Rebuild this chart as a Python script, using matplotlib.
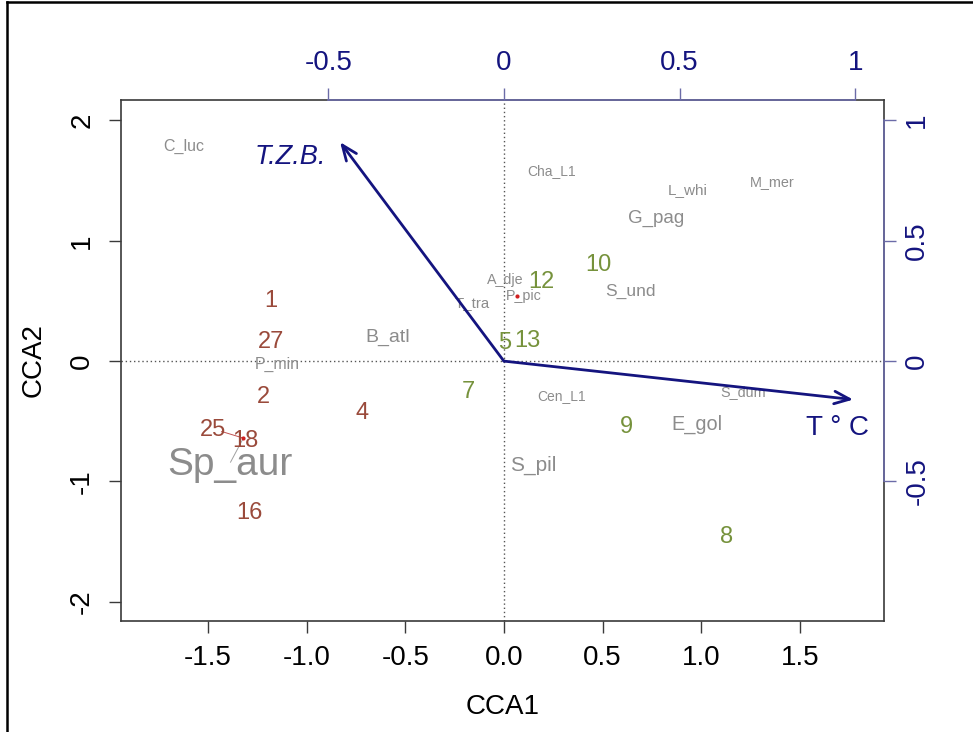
import numpy as np
import matplotlib.pyplot as plt
from matplotlib.lines import Line2D

plt.rcParams['font.family'] = ['Liberation Sans', 'DejaVu Sans']

# species scores (label centres, CCA1 / CCA2)
species = ['C_luc', 'Cha_L1', 'L_whi', 'M_mer', 'G_pag', 'A_dje', 'P_pic', 'S_und',
           'T_tra', 'B_atl', 'P_min', 'Cen_L1', 'S_dum', 'E_gol', 'S_pil', 'Sp_aur']
sp_x = [-1.62, 0.24, 0.93, 1.36, 0.77, 0.005, 0.10, 0.64,
        -0.16, -0.59, -1.15, 0.29, 1.21, 0.98, 0.15, -1.39]
sp_y = [1.78, 1.58, 1.42, 1.49, 1.19, 0.67, 0.54, 0.58,
        0.48, 0.20, -0.025, -0.29, -0.26, -0.53, -0.87, -0.865]
sp_size = [11.5, 10, 11, 10.4, 13.5, 10.3, 10.3, 12.5,
           10.8, 14, 11.4, 10, 10.4, 14.3, 15, 28]

# site scores
sites = ['1', '27', '2', '4', '25', '18', '16', '7', '5', '13', '12', '10', '9', '8']
site_x = [-1.18, -1.18, -1.22, -0.72, -1.475, -1.31, -1.29,
          -0.18, 0.005, 0.12, 0.19, 0.48, 0.62, 1.13]
site_y = [0.50, 0.16, -0.30, -0.43, -0.57, -0.66, -1.26,
          -0.26, 0.15, 0.17, 0.66, 0.80, -0.55, -1.46]
site_group = ['a'] * 7 + ['b'] * 7

# environmental arrows (tip, label) in CCA1/CCA2 units
env = ['T.Z.B.', 'T ° C']
env_x = [-0.83, 1.77]
env_y = [1.82, -0.32]
env_lab_x = [-1.08, 1.69]
env_lab_y = [1.70, -0.56]

# small marks: points and leader lines
dot_x = [0.066, -1.32]
dot_y = [0.54, -0.64]
lead_gray_x = [-1.32, -1.385]
lead_gray_y = [-0.64, -0.84]
lead_red_x = [-1.43, -1.32]
lead_red_y = [-0.585, -0.64]

brown = '#9a4a3b'
green = '#76923c'
gray = '#8c8c8c'
navy = '#14147f'
axblue = '#6b6ba8'
box = '#3a3a3a'

W, H = 973, 732
fig = plt.figure(figsize=(W / 100, H / 100), dpi=100)
ax = fig.add_axes([121 / W, 1 - 621 / H, (884 - 121) / W, (621 - 100) / H])
ax.set_xlim(-1.94, 1.926)
ax.set_ylim(-2.16, 2.17)

ax.axhline(0, color='#555555', lw=1, ls=(0, (1, 2)))
ax.axvline(0, color='#555555', lw=1, ls=(0, (1, 2)))

for s, x, y, fs in zip(species, sp_x, sp_y, sp_size):
    ax.text(x, y, s, color=gray, fontsize=fs, ha='center', va='center')

for s, x, y, g in zip(sites, site_x, site_y, site_group):
    ax.text(x, y, s, color=brown if g == 'a' else green, fontsize=17,
            ha='center', va='center')

ax.plot(lead_gray_x, lead_gray_y, color='#a0a0a0', lw=0.7)
ax.plot(lead_red_x, lead_red_y, color='#c05050', lw=0.7)
ax.plot(dot_x, dot_y, 'o', color='#d02020', ms=3, mec='none')

for name, x, y, lx, ly in zip(env, env_x, env_y, env_lab_x, env_lab_y):
    ax.annotate('', xy=(x, y), xytext=(0, 0),
                arrowprops=dict(arrowstyle='->,head_length=1.1,head_width=0.45',
                                color=navy, lw=2, shrinkA=0, shrinkB=0,
                                mutation_scale=10))
    if name == 'T.Z.B.':
        ax.text(lx, ly, name, color=navy, fontsize=19.5, style='italic',
                ha='center', va='center')
    else:
        ax.text(lx, ly, name, color=navy, fontsize=20, ha='center', va='center')

# primary axes
xt = [-1.5, -1.0, -0.5, 0.0, 0.5, 1.0, 1.5]
yt = [-2, -1, 0, 1, 2]
ax.set_xticks(xt)
ax.set_xticklabels([f'{v:.1f}' for v in xt])
ax.set_yticks(yt)
ax.set_yticklabels([str(v) for v in yt], rotation=90, va='center')
ax.tick_params(direction='out', length=8.6, width=1, color=box, labelsize=20)
ax.tick_params(axis='x', pad=9)
ax.tick_params(axis='y', pad=10)
for sp in ax.spines.values():
    sp.set_color(box)
    sp.set_linewidth(1.2)
ax.set_xlabel('CCA1', fontsize=20, labelpad=16)
ax.set_ylabel('CCA2', fontsize=20, labelpad=16)

# biplot axes (top / right)
kx, ky = 1.78, 2.0
axt = ax.twiny()
axt.set_xlim(ax.get_xlim()[0] / kx, ax.get_xlim()[1] / kx)
tt = [-0.5, 0, 0.5, 1]
axt.set_xticks(tt)
axt.set_xticklabels(['-0.5', '0', '0.5', '1'])
axt.tick_params(axis='x', direction='out', length=8.6, width=1, color=axblue,
                labelcolor=navy, labelsize=20, pad=9)
for k in ['left', 'right', 'bottom']:
    axt.spines[k].set_visible(False)
axt.spines['top'].set_bounds(-0.5, 1)
axt.spines['top'].set_color(axblue)
axt.spines['top'].set_linewidth(1.2)

axr = ax.twinx()
axr.set_ylim(ax.get_ylim()[0] / ky, ax.get_ylim()[1] / ky)
rt = [-0.5, 0, 0.5, 1]
axr.set_yticks(rt)
axr.set_yticklabels(['-0.5', '0', '0.5', '1'], rotation=90, va='center')
axr.tick_params(axis='y', direction='out', length=8.6, width=1, color=axblue,
                labelcolor=navy, labelsize=20, pad=6)
for k in ['left', 'top', 'bottom']:
    axr.spines[k].set_visible(False)
axr.spines['right'].set_bounds(-0.5, 1)
axr.spines['right'].set_color(axblue)
axr.spines['right'].set_linewidth(1.2)

# outer frame (left and top edges of the cropped picture)
fig.add_artist(Line2D([7 / W, 7 / W], [0, 1 - 2 / H], transform=fig.transFigure,
                      color='black', lw=1.8))
fig.add_artist(Line2D([7 / W, 1], [1 - 2 / H, 1 - 2 / H], transform=fig.transFigure,
                      color='black', lw=1.8))

fig.savefig('out.png', dpi=100)
